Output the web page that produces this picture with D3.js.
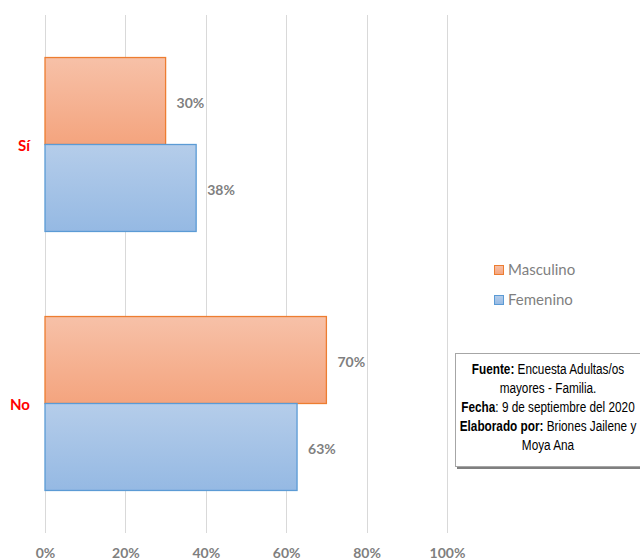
<!DOCTYPE html>
<html><head><meta charset="utf-8">
<script src="https://cdn.jsdelivr.net/npm/d3@7"></script>
<style>body{margin:0;background:#fff}</style>
</head><body>
<svg id="c" width="640" height="560"></svg>
<script>
const categories = ["Sí", "No"];
const seriesNames = ["Masculino", "Femenino"];
const masculino = [0.30, 0.70];
const femenino = [0.376, 0.627];
const dataLabels = [["30%", "70%"], ["38%", "63%"]];
const tickValues = [0, 0.2, 0.4, 0.6, 0.8, 1.0];
const noteLines = [
  [{b:"Fuente:"},{t:" Encuesta Adultas/os"}],
  [{t:"mayores - Familia."}],
  [{b:"Fecha"},{t:": 9 de septiembre del 2020"}],
  [{b:"Elaborado por:"},{t:" Briones Jailene y"}],
  [{t:"Moya Ana"}]
];

const svg = d3.select("#c");
const defs = svg.append("defs");
const grads = [
  {id:"gM", top:"#F7C1A8", bot:"#F4A47E", stroke:"#ED7D31"},
  {id:"gF", top:"#B5CDEA", bot:"#95B9E3", stroke:"#5B9BD5"}
];
grads.forEach(g => {
  const lg = defs.append("linearGradient").attr("id", g.id).attr("x1",0).attr("y1",0).attr("x2",0).attr("y2",1);
  lg.append("stop").attr("offset","0%").attr("stop-color", g.top);
  lg.append("stop").attr("offset","100%").attr("stop-color", g.bot);
});

const x = d3.scaleLinear().domain([0, 1]).range([45, 447]);
const y0 = d3.scaleBand().domain(categories).range([15, 533]).padding(0);
const y1 = d3.scaleBand().domain(seriesNames).range([0, y0.bandwidth()]).paddingInner(0).paddingOuter(0.489);

// gridlines
svg.append("g").selectAll("line").data(tickValues).join("line")
  .attr("x1", d => Math.round(x(d)) + 0.5).attr("x2", d => Math.round(x(d)) + 0.5)
  .attr("y1", 15).attr("y2", 533)
  .attr("stroke", "#d9d9d9").attr("stroke-width", 1);

// x axis labels
const xAxis = d3.axisBottom(x).tickValues(tickValues).tickFormat(d3.format(".0%")).tickSize(0).tickPadding(0);
const ax = svg.append("g").attr("transform", "translate(0,548)").call(xAxis);
ax.select(".domain").remove();
ax.selectAll("text").attr("fill", "#7f7f7f").attr("font-family", "Lato, 'Open Sans', sans-serif")
  .attr("font-weight", "bold").attr("font-size", 14);

// bars
const series = [masculino, femenino];
series.forEach((vals, si) => {
  svg.append("g").selectAll("rect").data(categories).join("rect")
    .attr("x", x(0))
    .attr("y", c => y0(c) + y1(seriesNames[si]))
    .attr("width", (c, i) => x(vals[i]) - x(0))
    .attr("height", y1.bandwidth())
    .attr("fill", `url(#${grads[si].id})`)
    .attr("stroke", grads[si].stroke).attr("stroke-width", 1.3);
  svg.append("g").selectAll("text").data(categories).join("text")
    .attr("x", (c, i) => x(vals[i]) + 11)
    .attr("y", c => y0(c) + y1(seriesNames[si]) + y1.bandwidth() / 2 + 7)
    .text((c, i) => dataLabels[si][i])
    .attr("fill", "#7f7f7f").attr("font-family", "Lato, 'Open Sans', sans-serif")
    .attr("font-weight", "bold").attr("font-size", 14);
});

// category labels
svg.append("g").selectAll("text").data(categories).join("text")
  .attr("x", 30).attr("y", c => y0(c) + y0.bandwidth() / 2 + 6)
  .attr("text-anchor", "end")
  .text(c => c)
  .attr("fill", "#ff0000").attr("font-family", "Lato, 'Open Sans', sans-serif")
  .attr("font-weight", "bold").attr("font-size", 15);

// legend
const lg = svg.append("g").attr("transform", "translate(494,263)");
seriesNames.forEach((s, i) => {
  lg.append("rect").attr("x", 0.5).attr("y", i * 30 + 2.5).attr("width", 9).attr("height", 9)
    .attr("fill", `url(#${grads[i].id})`).attr("stroke", grads[i].stroke);
  lg.append("text").attr("x", 14).attr("y", i * 30 + 12).text(s)
    .attr("fill", "#7f7f7f").attr("font-family", "Lato, 'Open Sans', sans-serif").attr("font-size", 15);
});

// note box
const nb = svg.append("g");
nb.append("rect").attr("x", 457).attr("y", 356).attr("width", 190).attr("height", 113).attr("fill", "#7f7f7f");
nb.append("rect").attr("x", 455.5).attr("y", 353.5).attr("width", 190).attr("height", 113)
  .attr("fill", "#fff").attr("stroke", "#a6a6a6");
const nt = nb.append("g").attr("transform", "translate(548,0) scale(0.76,1)");
noteLines.forEach((line, i) => {
  const t = nt.append("text").attr("x", 0).attr("y", 374 + i * 19).attr("text-anchor", "middle")
    .attr("font-family", "'Liberation Sans', Arial, sans-serif").attr("font-size", 15.5)
    .attr("fill", "#000");
  line.forEach(p => {
    t.append("tspan").attr("font-weight", p.b ? "bold" : "normal").text(p.b || p.t);
  });
});
</script>
</body></html>
